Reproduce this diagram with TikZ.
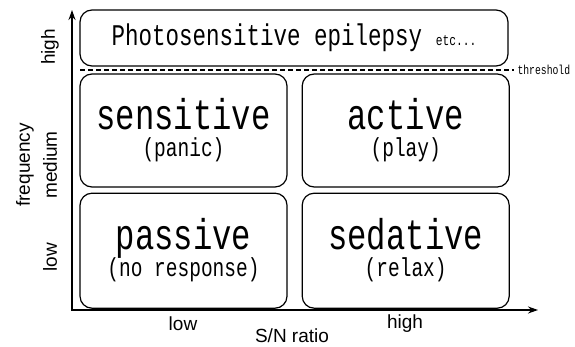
\documentclass[tikz,border=0pt]{standalone}
\usepackage{fontspec}
\setmainfont{Liberation Sans}
\newfontfamily\gothic[FakeStretch=0.75]{Liberation Mono}
\usetikzlibrary{arrows.meta, positioning}

\newcommand{\modename}[1]{\raisebox{0pt}[31pt][0pt]{\fontsize{43}{43}\selectfont #1}}
\newcommand{\modenote}[1]{\raisebox{0pt}[18pt][6pt]{\fontsize{26}{26}\selectfont #1}}

\begin{document}
\begin{tikzpicture}[
    x=1pt, y=-1pt,
    quad/.style={draw, line width=1.2pt, rounded corners=12pt, minimum width=207pt, minimum height=113pt, inner sep=0pt, align=center,
        font=\gothic\fontsize{26}{27}\selectfont},
    axislbl/.style={font=\fontsize{19}{19}\selectfont},
    axis/.style={line width=1.6pt, {Stealth[length=10pt,width=7pt]}-{Stealth[length=10pt,width=7pt]}}
]
    \useasboundingbox (0,0) rectangle (575,347);

    % Axes
    \coordinate (origin) at (72,310);
    \coordinate (ytip) at (72,10);
    \coordinate (xtip) at (538,310);
    \draw[axis] (ytip) -- (origin) -- (xtip);

    % Quadrants
    \node[quad] (sens) at (183.5,130.5) {\modename{sensitive}\\\modenote{(panic)}};
    \node[quad, right=14pt of sens] (act) {\modename{active}\\\modenote{(play)}};
    \node[quad, below=5pt of sens, minimum height=115pt] (pass) {\modename{passive}\\\modenote{(no response)}};
    \node[quad, below=5pt of act, minimum height=115pt] (sed) {\modename{sedative}\\\modenote{(relax)}};

    % Top band
    \node[quad, minimum width=428pt, minimum height=56pt] (epi) at (294,38)
        {{\fontsize{30}{30}\selectfont Photosensitive epilepsy\ }{\fontsize{15}{15}\selectfont etc...}};

    % Threshold
    \coordinate (thrstart) at (80,70);
    \node[font=\gothic\fontsize{13}{13}\selectfont, anchor=west] (thr) at (514,70) {threshold};
    \draw[line width=2pt, dash pattern=on 5pt off 3pt] (thrstart) -- (thr.west);

    % Axis labels
    \node[axislbl, rotate=90] (yhigh) at (50,47) {high};
    \node[axislbl, rotate=90] (ymed) at (50,165) {medium};
    \node[axislbl, rotate=90] (ylow) at (50,257) {low};
    \node[axislbl, rotate=90] (ylabel) at (25,165) {frequency};
    \node[axislbl] (xlow) at (183,324) {low};
    \node[axislbl] (xhigh) at (405,324) {high};
    \node[axislbl] (xlabel) at (292,336) {S/N ratio};
\end{tikzpicture}
\end{document}
